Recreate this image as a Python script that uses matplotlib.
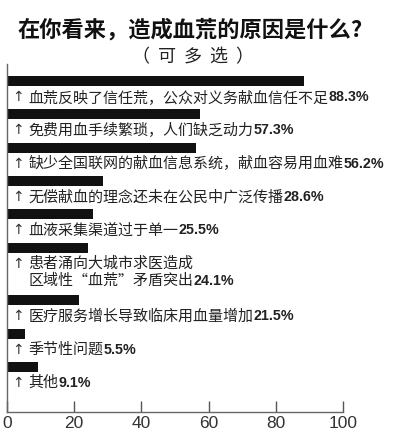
import matplotlib
matplotlib.use("Agg")
import matplotlib.pyplot as plt

plt.rcParams['font.family'] = ['Noto Sans CJK SC', 'DejaVu Sans']

# survey data (multiple choice, percent)
reasons = [
    "血荒反映了信任荒，公众对义务献血信任不足",
    "免费用血手续繁琐，人们缺乏动力",
    "缺少全国联网的献血信息系统，献血容易用血难",
    "无偿献血的理念还未在公民中广泛传播",
    "血液采集渠道过于单一",
    "患者涌向大城市求医造成\n区域性“血荒”矛盾突出",
    "医疗服务增长导致临床用血量增加",
    "季节性问题",
    "其他",
]
percents = [88.3, 57.3, 56.2, 28.6, 25.5, 24.1, 21.5, 5.5, 9.1]
x_ticks = [0, 20, 40, 60, 80, 100]

title = "在你看来，造成血荒的原因是什么?"
subtitle = "（  可  多  选  ）"

# a two-line label pushes the next bar further down
pos = []
y = 0.0
for r in reasons:
    pos.append(y)
    y += 1 + 0.57 * r.count("\n")

fig = plt.figure(figsize=(4, 4.44), dpi=100)
ax = fig.add_axes([7 / 400, 32 / 444, 336 / 400, 348 / 444])

ax.barh(pos, percents, height=0.3, color="#111111", align="center")

ax.set_xlim(0, 100)
ax.set_ylim(pos[-1] + 1.35, -0.51)
ax.set_xticks(x_ticks)
ax.set_yticks([])
ax.tick_params(axis="x", direction="in", length=8, width=1, color="#555555",
               pad=3, labelsize=12.5, labelcolor="#333333")
for lab in ax.get_xticklabels():
    lab.set_family(["Liberation Sans", "DejaVu Sans"])
for s in ["top", "right"]:
    ax.spines[s].set_visible(False)
for s in ["left", "bottom"]:
    ax.spines[s].set_color("#666666")
    ax.spines[s].set_linewidth(1)

line_gap = 0.51
for p, r, v in zip(pos, reasons, percents):
    lines = r.split("\n")
    y0 = p + 0.48
    ax.text(3.4, y0, "↑", fontsize=10, color="#333333", va="center",
            ha="center", family=["DejaVu Sans"])
    t = None
    for i, ln in enumerate(lines):
        t = ax.text(6.3, y0 + i * line_gap, ln, fontsize=10.8, color="#222222",
                    va="center", ha="left")
    ax.annotate(f"{v}%", xy=(1, 0.5), xycoords=t, va="center", ha="left",
                fontsize=10.3, fontweight="bold", color="#222222",
                family=["Liberation Sans", "DejaVu Sans"])

fig.text(190 / 400, 1 - 30 / 444, title, fontsize=16, fontweight="bold",
         ha="center", va="center", color="#111111")
fig.text(193 / 400, 1 - 57 / 444, subtitle, fontsize=13, ha="center",
         va="center", color="#222222")

fig.savefig("out.png", dpi=100)
